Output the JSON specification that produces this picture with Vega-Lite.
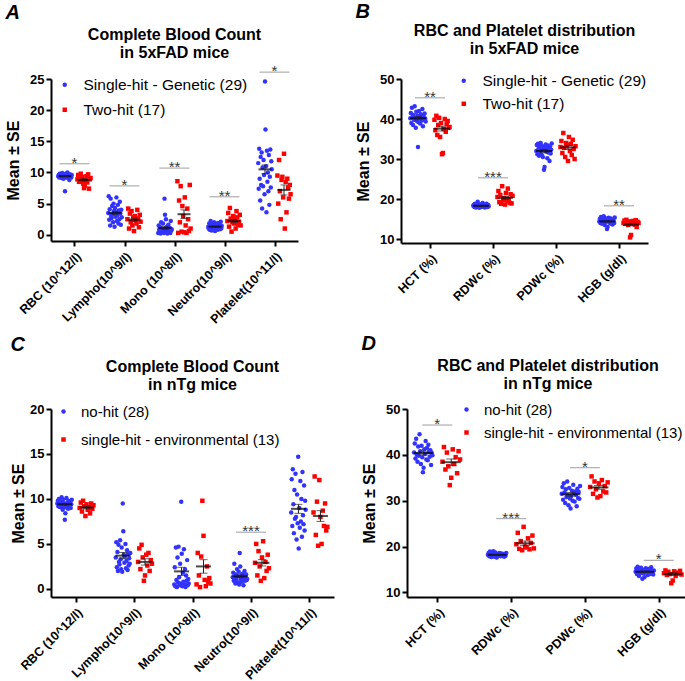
{
"$schema":"https://vega.github.io/schema/vega-lite/v6.json",
"padding":{"left":5,"top":2,"right":0,"bottom":0},
"config":{
 "view":{"stroke":null},
 "font":"Liberation Sans",
 "axis":{"domainColor":"black","domainWidth":2,"tickColor":"black","tickWidth":2,"tickSize":5,"labelFont":"Liberation Sans","labelFontWeight":"bold","labelColor":"black","labelFontSize":13,"labelPadding":2,"titleFont":"Liberation Sans","titleFontWeight":"bold","titleFontSize":16,"titleColor":"black","titlePadding":8,"grid":false,"labelOverlap":false},
 "axisX":{"labelAngle":-45,"labelFontSize":12.5,"labelPadding":4,"title":null},
 "legend":{"labelLimit":400},
 "title":{"font":"Liberation Sans","fontSize":16,"fontWeight":"bold","color":"black","anchor":"middle","lineHeight":18,"offset":3}
},
"datasets":{
 "pts":[
  {"p":"A","c":"RBC (10^12/l)","g":"b","v":[9.4,9.6,9.2,9.8,9.5,9.3,9.7,9.1,9.9,9.4,9.5,9.0,9.6,9.3,7.0,9.8,9.2,9.4,9.5,10.0,9.1,9.6,9.3,8.8,9.7,9.4,9.5,9.2,9.6]},
  {"p":"A","c":"RBC (10^12/l)","g":"r","v":[8.9,9.6,8.5,9.2,9.8,8.8,9.3,8.2,7.5,7.9,8.7,9.4,8.4,9.7,7.4,8.9,9.1]},
  {"p":"A","c":"Lympho(10^9/l)","g":"b","v":[3.5,6.2,2.4,4.1,1.5,5.8,3.0,2.7,4.6,3.3,2.0,5.0,3.8,1.3,4.3,2.9,3.6,6.0,2.2,3.1,4.8,1.8,3.9,2.5,5.3,3.4,1.6,4.0,2.8]},
  {"p":"A","c":"Lympho(10^9/l)","g":"r","v":[2.5,4.2,1.0,3.4,2.0,3.8,1.5,2.8,0.6,3.0,2.3,1.8,4.0,2.6,1.2,3.2,2.1]},
  {"p":"A","c":"Mono (10^8/l)","g":"b","v":[0.3,1.5,0.8,0.5,1.2,0.2,2.0,0.6,0.9,0.4,1.8,0.7,0.3,5.8,3.2,1.0,2.5,0.5,1.3,0.2,0.8,1.6,0.4,0.6,1.1,0.3,2.2,0.7,0.9]},
  {"p":"A","c":"Mono (10^8/l)","g":"r","v":[8.6,0.3,5.5,2.0,7.8,0.5,4.6,3.0,0.4,6.0,1.5,0.3,4.2,2.5,0.6,8.0,1.0]},
  {"p":"A","c":"Neutro(10^9/l)","g":"b","v":[1.3,1.0,1.8,0.8,1.5,2.2,1.1,0.7,1.4,1.6,0.9,1.2,2.0,1.3,0.6,1.7,1.0,1.5,1.2,0.8,1.9,1.4,1.1,1.6,0.9,1.3,2.1,1.0,1.4]},
  {"p":"A","c":"Neutro(10^9/l)","g":"r","v":[2.2,3.5,1.3,4.3,2.6,0.5,2.0,3.0,1.8,2.4,1.0,3.8,2.8,1.6,2.1,3.2,1.5]},
  {"p":"A","c":"Platelet(10^11/l)","g":"b","v":[11.5,7.4,13.8,9.0,5.5,12.5,8.0,13.2,4.2,10.8,7.8,12.0,9.6,6.5,24.6,16.9,11.0,3.6,13.5,8.5,10.0,7.0,12.8,4.8,9.3,13.7,7.6,11.8,10.5]},
  {"p":"A","c":"Platelet(10^11/l)","g":"r","v":[9.5,5.0,12.0,7.0,2.5,8.8,9.3,6.0,13.0,1.0,8.5,3.6,9.0,7.6,5.8,8.0,6.5]},
  {"p":"B","c":"HCT (%)","g":"b","v":[40.2,41.5,39.0,42.8,40.5,38.5,41.0,39.8,43.2,40.0,37.8,41.8,39.5,40.8,33.0,39.2,42.0,40.3,38.9,41.2,40.6,39.6,42.5,38.2,40.9,39.9,41.4,40.1,39.4]},
  {"p":"B","c":"HCT (%)","g":"r","v":[39.8,37.2,40.8,36.0,38.5,40.3,35.5,39.0,31.2,31.5,37.5,40.0,36.8,38.8,39.5,37.8,38.0]},
  {"p":"B","c":"RDWc (%)","g":"b","v":[18.3,18.5,18.0,18.8,18.2,17.9,18.6,18.4,19.3,18.1,18.3,17.8,18.7,18.2,18.5,18.0,18.4,19.0,18.3,18.1,18.6,17.9,18.4,18.2,18.8,18.3,18.0,18.5,18.2]},
  {"p":"B","c":"RDWc (%)","g":"r","v":[20.5,22.0,19.2,21.0,18.8,23.2,19.8,20.2,18.6,21.5,19.5,22.6,20.0,19.0,21.2,18.9,20.8]},
  {"p":"B","c":"PDWc (%)","g":"b","v":[32.0,33.5,31.2,33.8,32.5,30.8,33.0,31.5,34.0,32.2,31.0,33.2,30.5,32.8,27.3,28.0,32.4,33.6,31.8,32.9,30.2,33.4,31.6,32.6,29.5,33.1,31.4,32.3,33.9]},
  {"p":"B","c":"PDWc (%)","g":"r","v":[33.0,34.5,31.5,36.5,32.8,30.5,34.0,33.5,29.5,35.5,32.0,33.8,31.0,34.8,32.5,30.0,33.2]},
  {"p":"B","c":"HGB (g/dl)","g":"b","v":[14.4,15.0,14.0,15.5,14.6,13.8,14.9,14.2,15.7,14.5,13.5,15.2,14.3,14.8,12.5,13.0,14.7,15.3,14.1,14.6,13.9,15.1,14.4,14.2,13.6,14.8,14.5,14.0,15.4]},
  {"p":"B","c":"HGB (g/dl)","g":"r","v":[14.0,14.6,13.8,14.8,14.2,13.5,14.4,10.4,11.0,13.9,14.5,14.1,13.6,14.7,13.0,14.3,14.0]},
  {"p":"C","c":"RBC (10^12/l)","g":"b","v":[9.5,9.8,9.2,10.0,9.4,9.1,9.7,9.3,10.2,9.6,8.8,9.9,9.0,9.5,7.7,8.4,9.4,10.1,9.2,9.6,8.9,9.8,9.3,9.5,9.7,9.0,9.4,9.9]},
  {"p":"C","c":"RBC (10^12/l)","g":"r","v":[9.0,9.6,8.6,9.8,9.2,8.1,9.4,8.8,9.1,8.4,9.5,8.9,9.3]},
  {"p":"C","c":"Lympho(10^9/l)","g":"b","v":[3.5,5.2,2.4,4.1,2.0,4.9,3.0,2.7,5.4,3.3,2.2,4.6,1.9,9.5,6.4,3.8,2.9,3.6,5.0,2.3,3.1,4.3,2.1,3.9,2.6,3.4,2.8,4.0]},
  {"p":"C","c":"Lympho(10^9/l)","g":"r","v":[3.0,4.5,2.2,4.9,3.5,0.9,1.5,3.8,2.6,4.0,2.0,3.2,2.8]},
  {"p":"C","c":"Mono (10^8/l)","g":"b","v":[0.5,2.4,0.3,4.6,1.0,0.2,3.5,0.7,4.7,1.3,0.4,2.8,0.6,9.7,3.9,0.3,1.8,0.8,4.4,0.5,2.2,0.2,1.5,0.9,3.2,0.4,1.1,0.6]},
  {"p":"C","c":"Mono (10^8/l)","g":"r","v":[0.5,4.0,1.5,0.2,3.6,9.8,5.9,1.0,0.3,2.5,0.8,1.2,0.6]},
  {"p":"C","c":"Neutro(10^9/l)","g":"b","v":[1.3,1.8,0.9,2.8,1.2,0.6,1.6,1.0,2.2,1.4,0.7,1.9,0.5,4.0,2.5,1.1,1.5,0.8,1.7,1.2,0.4,1.4,2.0,0.9,1.3,1.6,1.0,1.1]},
  {"p":"C","c":"Neutro(10^9/l)","g":"r","v":[2.9,5.0,1.5,4.2,2.5,0.9,3.5,5.3,1.2,3.0,2.0,3.8,2.3]},
  {"p":"C","c":"Platelet(10^11/l)","g":"b","v":[8.5,12.2,7.0,13.3,9.4,6.2,11.0,7.8,12.8,8.0,5.5,10.5,7.3,14.7,4.5,9.0,6.8,12.0,7.5,10.0,5.8,13.0,8.2,7.2,11.5,6.5,9.8,8.8]},
  {"p":"C","c":"Platelet(10^11/l)","g":"r","v":[8.5,12.5,6.0,9.7,4.8,12.1,8.0,5.0,8.7,7.0,9.5,6.5,6.9]},
  {"p":"D","c":"HCT (%)","g":"b","v":[40.5,42.5,39.2,43.5,40.0,38.5,41.8,39.8,44.5,40.8,38.0,42.0,39.5,36.2,37.2,41.2,40.2,43.0,39.0,41.5,38.8,42.2,40.6,39.6,41.0,37.8,40.4,39.9]},
  {"p":"D","c":"HCT (%)","g":"r","v":[38.5,41.7,36.8,40.5,37.5,33.4,35.0,41.2,38.0,39.5,36.0,40.8,39.0]},
  {"p":"D","c":"RDWc (%)","g":"b","v":[18.2,18.6,17.9,18.9,18.3,17.7,18.5,18.0,19.0,18.2,17.8,18.7,18.1,17.6,18.4,18.3,18.0,18.6,18.2,17.9,18.5,18.1,18.3,18.4,17.8,18.2,18.0,18.6]},
  {"p":"D","c":"RDWc (%)","g":"r","v":[20.5,23.0,19.5,21.2,19.2,24.3,20.0,19.8,21.8,19.4,20.8,22.4,19.6]},
  {"p":"D","c":"PDWc (%)","g":"b","v":[31.5,33.0,30.2,33.8,31.8,29.5,32.5,30.8,34.2,31.2,29.0,32.8,30.5,28.3,31.0,32.2,30.0,33.5,31.6,29.8,32.0,31.3,28.8,32.6,30.6,31.9,30.4,33.2]},
  {"p":"D","c":"PDWc (%)","g":"r","v":[33.0,35.3,31.5,34.2,32.5,30.7,33.8,31.0,34.5,32.0,33.2,31.8,34.0]},
  {"p":"D","c":"HGB (g/dl)","g":"b","v":[14.5,15.2,14.0,15.6,14.7,13.6,15.0,14.2,15.4,14.4,13.0,14.9,14.1,13.3,14.6,15.3,14.3,14.8,13.8,15.1,14.5,14.0,14.7,15.5,14.2,14.6,13.9,14.8]},
  {"p":"D","c":"HGB (g/dl)","g":"r","v":[14.2,14.8,13.8,14.5,14.0,12.0,12.6,14.6,13.6,14.3,14.1,14.7,13.9]}
 ],
 "sum":[
  {"p":"A","c":"RBC (10^12/l)","g":"b","m":9.4,"lo":9.3,"hi":9.5},
  {"p":"A","c":"RBC (10^12/l)","g":"r","m":8.8,"lo":8.6,"hi":9.0},
  {"p":"A","c":"Lympho(10^9/l)","g":"b","m":3.5,"lo":3.25,"hi":3.75},
  {"p":"A","c":"Lympho(10^9/l)","g":"r","m":2.4,"lo":2.15,"hi":2.65},
  {"p":"A","c":"Mono (10^8/l)","g":"b","m":1.1,"lo":0.85,"hi":1.35},
  {"p":"A","c":"Mono (10^8/l)","g":"r","m":3.3,"lo":2.6,"hi":4.0},
  {"p":"A","c":"Neutro(10^9/l)","g":"b","m":1.3,"lo":1.2,"hi":1.4},
  {"p":"A","c":"Neutro(10^9/l)","g":"r","m":2.2,"lo":1.95,"hi":2.45},
  {"p":"A","c":"Platelet(10^11/l)","g":"b","m":10.5,"lo":9.8,"hi":11.2},
  {"p":"A","c":"Platelet(10^11/l)","g":"r","m":7.2,"lo":6.4,"hi":8.0},
  {"p":"B","c":"HCT (%)","g":"b","m":40.2,"lo":39.8,"hi":40.6},
  {"p":"B","c":"HCT (%)","g":"r","m":37.6,"lo":37.0,"hi":38.2},
  {"p":"B","c":"RDWc (%)","g":"b","m":18.3,"lo":18.2,"hi":18.4},
  {"p":"B","c":"RDWc (%)","g":"r","m":20.3,"lo":19.95,"hi":20.65},
  {"p":"B","c":"PDWc (%)","g":"b","m":32.0,"lo":31.6,"hi":32.4},
  {"p":"B","c":"PDWc (%)","g":"r","m":32.9,"lo":32.4,"hi":33.4},
  {"p":"B","c":"HGB (g/dl)","g":"b","m":14.4,"lo":14.25,"hi":14.55},
  {"p":"B","c":"HGB (g/dl)","g":"r","m":13.6,"lo":13.3,"hi":13.9},
  {"p":"C","c":"RBC (10^12/l)","g":"b","m":9.4,"lo":9.3,"hi":9.5},
  {"p":"C","c":"RBC (10^12/l)","g":"r","m":9.05,"lo":8.9,"hi":9.2},
  {"p":"C","c":"Lympho(10^9/l)","g":"b","m":3.7,"lo":3.35,"hi":4.05},
  {"p":"C","c":"Lympho(10^9/l)","g":"r","m":3.0,"lo":2.65,"hi":3.35},
  {"p":"C","c":"Mono (10^8/l)","g":"b","m":1.95,"lo":1.5,"hi":2.4},
  {"p":"C","c":"Mono (10^8/l)","g":"r","m":2.5,"lo":1.75,"hi":3.25},
  {"p":"C","c":"Neutro(10^9/l)","g":"b","m":1.4,"lo":1.25,"hi":1.55},
  {"p":"C","c":"Neutro(10^9/l)","g":"r","m":2.9,"lo":2.55,"hi":3.25},
  {"p":"C","c":"Platelet(10^11/l)","g":"b","m":8.9,"lo":8.4,"hi":9.4},
  {"p":"C","c":"Platelet(10^11/l)","g":"r","m":8.1,"lo":7.5,"hi":8.7},
  {"p":"D","c":"HCT (%)","g":"b","m":40.4,"lo":40.0,"hi":40.8},
  {"p":"D","c":"HCT (%)","g":"r","m":38.4,"lo":37.7,"hi":39.1},
  {"p":"D","c":"RDWc (%)","g":"b","m":18.2,"lo":18.1,"hi":18.3},
  {"p":"D","c":"RDWc (%)","g":"r","m":20.7,"lo":20.2,"hi":21.2},
  {"p":"D","c":"PDWc (%)","g":"b","m":31.4,"lo":31.0,"hi":31.8},
  {"p":"D","c":"PDWc (%)","g":"r","m":32.9,"lo":32.5,"hi":33.3},
  {"p":"D","c":"HGB (g/dl)","g":"b","m":14.5,"lo":14.35,"hi":14.65},
  {"p":"D","c":"HGB (g/dl)","g":"r","m":14.0,"lo":13.7,"hi":14.3}
 ],
 "sig":[
  {"p":"A","c":"RBC (10^12/l)","y":11.4,"t":"*"},
  {"p":"A","c":"Lympho(10^9/l)","y":7.85,"t":"*"},
  {"p":"A","c":"Mono (10^8/l)","y":10.7,"t":"**"},
  {"p":"A","c":"Neutro(10^9/l)","y":6.1,"t":"**"},
  {"p":"A","c":"Platelet(10^11/l)","y":26.1,"t":"*"},
  {"p":"B","c":"HCT (%)","y":45.3,"t":"**"},
  {"p":"B","c":"RDWc (%)","y":25.3,"t":"***"},
  {"p":"B","c":"HGB (g/dl)","y":18.3,"t":"**"},
  {"p":"C","c":"Neutro(10^9/l)","y":6.3,"t":"***"},
  {"p":"D","c":"HCT (%)","y":46.5,"t":"*"},
  {"p":"D","c":"RDWc (%)","y":26.1,"t":"***"},
  {"p":"D","c":"PDWc (%)","y":37.2,"t":"*"},
  {"p":"D","c":"HGB (g/dl)","y":17.0,"t":"*"}
 ]
},
"spacing":8,
"resolve":{"scale":{"color":"independent","shape":"independent"},"legend":{"color":"independent","shape":"independent"}},
"vconcat":[
 {"spacing":57,
  "resolve":{"scale":{"color":"independent","shape":"independent"},"legend":{"color":"independent","shape":"independent"}},
  "hconcat":[
  {"title":{"text":"A","anchor":"start","fontSize":20,"fontStyle":"italic","fontWeight":"bold","offset":4},
   "resolve":{"scale":{"color":"independent","shape":"independent"},"legend":{"color":"independent","shape":"independent"}},
   "vconcat":[{
    "title":{"text":["Complete Blood Count","in 5xFAD mice"],"offset":3},
    "width":247,"height":162,
    "resolve":{"scale":{"xOffset":"independent"}},
    "layer":[
     {"data":{"name":"pts"},"transform":[{"filter":"datum.p=='A' && datum.g=='b'"},{"flatten":["v"]},{"window":[{"op":"row_number","as":"i"}],"groupby":["c"]}],
      "mark":{"type":"point","filled":true,"size":20,"opacity":1},
      "encoding":{
       "x":{"field":"c","type":"nominal","scale":{"type":"point","domain":["RBC (10^12/l)","Lympho(10^9/l)","Mono (10^8/l)","Neutro(10^9/l)","Platelet(10^11/l)"],"padding":0.47},"axis":{"title":null}},
       "y":{"field":"v","type":"quantitative","scale":{"domain":[-1,25],"nice":false,"zero":false},"axis":{"title":"Mean ± SE","values":[0,5,10,15,20,25]}},
       "xOffset":{"field":"i","type":"ordinal","scale":{"range":[-16.5,-2.5]}},
       "color":{"field":"g","type":"nominal","scale":{"domain":["b","r"],"range":["#3333ff","#ff0000"]},"legend":{"orient":"none","legendX":6,"legendY":-2,"title":null,"labelExpr":"datum.value=='b' ? 'Single-hit - Genetic (29)' : 'Two-hit (17)'","labelFont":"Liberation Sans","labelFontSize":15.5,"labelColor":"black","symbolSize":20,"labelOffset":11,"rowPadding":8}},
       "shape":{"field":"g","type":"nominal","scale":{"domain":["b","r"],"range":["circle","square"]},"legend":{"orient":"none","legendX":6,"legendY":-2,"title":null,"labelExpr":"datum.value=='b' ? 'Single-hit - Genetic (29)' : 'Two-hit (17)'","labelFont":"Liberation Sans","labelFontSize":15.5,"labelColor":"black","symbolSize":20,"labelOffset":11,"rowPadding":8}}
      }},
     {"data":{"name":"pts"},"transform":[{"filter":"datum.p=='A' && datum.g=='r'"},{"flatten":["v"]},{"window":[{"op":"row_number","as":"i"}],"groupby":["c"]}],
      "mark":{"type":"point","filled":true,"size":20,"opacity":1},
      "encoding":{
       "x":{"field":"c","type":"nominal"},
       "y":{"field":"v","type":"quantitative","axis":{"title":"Mean ± SE","values":[0,5,10,15,20,25]}},
       "xOffset":{"field":"i","type":"ordinal","scale":{"range":[2.5,16.5]}},
       "color":{"field":"g","type":"nominal"},
       "shape":{"field":"g","type":"nominal"}
      }},
     {"data":{"name":"sum"},"transform":[{"filter":"datum.p=='A'"}],
      "mark":{"type":"tick","orient":"horizontal","color":"black","thickness":2,"size":13},
      "encoding":{"x":{"field":"c","type":"nominal"},"y":{"field":"m","type":"quantitative","axis":{"title":"Mean ± SE","values":[0,5,10,15,20,25]}},"xOffset":{"field":"g","type":"nominal","scale":{"domain":["b","r"],"range":[-19,19]}}}},
     {"data":{"name":"sum"},"transform":[{"filter":"datum.p=='A'"}],
      "mark":{"type":"rule","color":"#222222","strokeWidth":1},
      "encoding":{"x":{"field":"c","type":"nominal"},"y":{"field":"lo","type":"quantitative","axis":{"title":"Mean ± SE","values":[0,5,10,15,20,25]}},"y2":{"field":"hi"},"xOffset":{"field":"g","type":"nominal","scale":{"domain":["b","r"],"range":[-19,19]}}}},
     {"data":{"name":"sum"},"transform":[{"filter":"datum.p=='A'"}],
      "mark":{"type":"tick","orient":"horizontal","color":"#222222","thickness":1,"size":7},
      "encoding":{"x":{"field":"c","type":"nominal"},"y":{"field":"lo","type":"quantitative","axis":{"title":"Mean ± SE","values":[0,5,10,15,20,25]}},"xOffset":{"field":"g","type":"nominal","scale":{"domain":["b","r"],"range":[-19,19]}}}},
     {"data":{"name":"sum"},"transform":[{"filter":"datum.p=='A'"}],
      "mark":{"type":"tick","orient":"horizontal","color":"#222222","thickness":1,"size":7},
      "encoding":{"x":{"field":"c","type":"nominal"},"y":{"field":"hi","type":"quantitative","axis":{"title":"Mean ± SE","values":[0,5,10,15,20,25]}},"xOffset":{"field":"g","type":"nominal","scale":{"domain":["b","r"],"range":[-19,19]}}}},
     {"data":{"name":"sig"},"transform":[{"filter":"datum.p=='A'"}],
      "mark":{"type":"tick","orient":"horizontal","color":"#8c8c8c","thickness":1.2,"size":30},
      "encoding":{"x":{"field":"c","type":"nominal"},"y":{"field":"y","type":"quantitative","axis":{"title":"Mean ± SE","values":[0,5,10,15,20,25]}}}},
     {"data":{"name":"sig"},"transform":[{"filter":"datum.p=='A'"}],
      "mark":{"type":"text","fontSize":15,"color":"#333333","dy":4,"baseline":"alphabetic","font":"Liberation Sans"},
      "encoding":{"x":{"field":"c","type":"nominal"},"y":{"field":"y","type":"quantitative","axis":{"title":"Mean ± SE","values":[0,5,10,15,20,25]}},"text":{"field":"t"}}}
    ]
   }]
  },
  {"title":{"text":"B","anchor":"start","fontSize":20,"fontStyle":"italic","fontWeight":"bold","offset":1},
   "resolve":{"scale":{"color":"independent","shape":"independent"},"legend":{"color":"independent","shape":"independent"}},
   "vconcat":[{
    "title":{"text":["RBC and Platelet distribution","in 5xFAD mice"],"offset":16},
    "width":247,"height":164,
    "resolve":{"scale":{"xOffset":"independent"}},
    "layer":[
     {"data":{"name":"pts"},"transform":[{"filter":"datum.p=='B' && datum.g=='b'"},{"flatten":["v"]},{"window":[{"op":"row_number","as":"i"}],"groupby":["c"]}],
      "mark":{"type":"point","filled":true,"size":20,"opacity":1},
      "encoding":{
       "x":{"field":"c","type":"nominal","scale":{"type":"point","domain":["HCT (%)","RDWc (%)","PDWc (%)","HGB (g/dl)"],"padding":0.46},"axis":{"title":null}},
       "y":{"field":"v","type":"quantitative","scale":{"domain":[9,50],"nice":false,"zero":false},"axis":{"title":"Mean ± SE","values":[10,20,30,40,50]}},
       "xOffset":{"field":"i","type":"ordinal","scale":{"range":[-20,-4]}},
       "color":{"field":"g","type":"nominal","scale":{"domain":["b","r"],"range":["#3333ff","#ff0000"]},"legend":{"orient":"none","legendX":55,"legendY":-6,"title":null,"labelExpr":"datum.value=='b' ? 'Single-hit - Genetic (29)' : 'Two-hit (17)'","labelFont":"Liberation Sans","labelFontSize":15.5,"labelColor":"black","symbolSize":20,"labelOffset":11,"rowPadding":6}},
       "shape":{"field":"g","type":"nominal","scale":{"domain":["b","r"],"range":["circle","square"]},"legend":{"orient":"none","legendX":55,"legendY":-6,"title":null,"labelExpr":"datum.value=='b' ? 'Single-hit - Genetic (29)' : 'Two-hit (17)'","labelFont":"Liberation Sans","labelFontSize":15.5,"labelColor":"black","symbolSize":20,"labelOffset":11,"rowPadding":6}}
      }},
     {"data":{"name":"pts"},"transform":[{"filter":"datum.p=='B' && datum.g=='r'"},{"flatten":["v"]},{"window":[{"op":"row_number","as":"i"}],"groupby":["c"]}],
      "mark":{"type":"point","filled":true,"size":20,"opacity":1},
      "encoding":{
       "x":{"field":"c","type":"nominal"},
       "y":{"field":"v","type":"quantitative","axis":{"title":"Mean ± SE","values":[10,20,30,40,50]}},
       "xOffset":{"field":"i","type":"ordinal","scale":{"range":[4,20]}},
       "color":{"field":"g","type":"nominal"},
       "shape":{"field":"g","type":"nominal"}
      }},
     {"data":{"name":"sum"},"transform":[{"filter":"datum.p=='B'"}],
      "mark":{"type":"tick","orient":"horizontal","color":"black","thickness":2,"size":16},
      "encoding":{"x":{"field":"c","type":"nominal"},"y":{"field":"m","type":"quantitative","axis":{"title":"Mean ± SE","values":[10,20,30,40,50]}},"xOffset":{"field":"g","type":"nominal","scale":{"domain":["b","r"],"range":[-24,24]}}}},
     {"data":{"name":"sum"},"transform":[{"filter":"datum.p=='B'"}],
      "mark":{"type":"rule","color":"#222222","strokeWidth":1},
      "encoding":{"x":{"field":"c","type":"nominal"},"y":{"field":"lo","type":"quantitative","axis":{"title":"Mean ± SE","values":[10,20,30,40,50]}},"y2":{"field":"hi"},"xOffset":{"field":"g","type":"nominal","scale":{"domain":["b","r"],"range":[-24,24]}}}},
     {"data":{"name":"sum"},"transform":[{"filter":"datum.p=='B'"}],
      "mark":{"type":"tick","orient":"horizontal","color":"#222222","thickness":1,"size":8},
      "encoding":{"x":{"field":"c","type":"nominal"},"y":{"field":"lo","type":"quantitative","axis":{"title":"Mean ± SE","values":[10,20,30,40,50]}},"xOffset":{"field":"g","type":"nominal","scale":{"domain":["b","r"],"range":[-24,24]}}}},
     {"data":{"name":"sum"},"transform":[{"filter":"datum.p=='B'"}],
      "mark":{"type":"tick","orient":"horizontal","color":"#222222","thickness":1,"size":8},
      "encoding":{"x":{"field":"c","type":"nominal"},"y":{"field":"hi","type":"quantitative","axis":{"title":"Mean ± SE","values":[10,20,30,40,50]}},"xOffset":{"field":"g","type":"nominal","scale":{"domain":["b","r"],"range":[-24,24]}}}},
     {"data":{"name":"sig"},"transform":[{"filter":"datum.p=='B'"}],
      "mark":{"type":"tick","orient":"horizontal","color":"#8c8c8c","thickness":1.2,"size":30},
      "encoding":{"x":{"field":"c","type":"nominal"},"y":{"field":"y","type":"quantitative","axis":{"title":"Mean ± SE","values":[10,20,30,40,50]}}}},
     {"data":{"name":"sig"},"transform":[{"filter":"datum.p=='B'"}],
      "mark":{"type":"text","fontSize":15,"color":"#333333","dy":4,"baseline":"alphabetic","font":"Liberation Sans"},
      "encoding":{"x":{"field":"c","type":"nominal"},"y":{"field":"y","type":"quantitative","axis":{"title":"Mean ± SE","values":[10,20,30,40,50]}},"text":{"field":"t"}}}
    ]
   }]
  }
 ]},
 {"spacing":27,
  "resolve":{"scale":{"color":"independent","shape":"independent"},"legend":{"color":"independent","shape":"independent"}},
  "hconcat":[
  {"title":{"text":"C","anchor":"start","fontSize":20,"fontStyle":"italic","fontWeight":"bold","offset":4},
   "resolve":{"scale":{"color":"independent","shape":"independent"},"legend":{"color":"independent","shape":"independent"}},
   "vconcat":[{
    "title":{"text":["Complete Blood Count","in nTg mice"],"offset":10},
    "width":283,"height":188,
    "resolve":{"scale":{"xOffset":"independent"}},
    "layer":[
     {"data":{"name":"pts"},"transform":[{"filter":"datum.p=='C' && datum.g=='b'"},{"flatten":["v"]},{"window":[{"op":"row_number","as":"i"}],"groupby":["c"]}],
      "mark":{"type":"point","filled":true,"size":20,"opacity":1},
      "encoding":{
       "x":{"field":"c","type":"nominal","scale":{"type":"point","domain":["RBC (10^12/l)","Lympho(10^9/l)","Mono (10^8/l)","Neutro(10^9/l)","Platelet(10^11/l)"],"padding":0.42},"axis":{"title":null}},
       "y":{"field":"v","type":"quantitative","scale":{"domain":[-0.9,20],"nice":false,"zero":false},"axis":{"title":"Mean ± SE","titlePadding":3,"values":[0,5,10,15,20]}},
       "xOffset":{"field":"i","type":"ordinal","scale":{"range":[-18.5,-3.5]}},
       "color":{"field":"g","type":"nominal","scale":{"domain":["b","r"],"range":["#3333ff","#ff0000"]},"legend":{"orient":"none","legendX":5,"legendY":-5,"title":null,"labelExpr":"datum.value=='b' ? 'no-hit (28)' : 'single-hit - environmental (13)'","labelFont":"Liberation Sans","labelFontSize":15,"labelColor":"black","symbolSize":20,"labelOffset":10,"rowPadding":12}},
       "shape":{"field":"g","type":"nominal","scale":{"domain":["b","r"],"range":["circle","square"]},"legend":{"orient":"none","legendX":5,"legendY":-5,"title":null,"labelExpr":"datum.value=='b' ? 'no-hit (28)' : 'single-hit - environmental (13)'","labelFont":"Liberation Sans","labelFontSize":15,"labelColor":"black","symbolSize":20,"labelOffset":10,"rowPadding":12}}
      }},
     {"data":{"name":"pts"},"transform":[{"filter":"datum.p=='C' && datum.g=='r'"},{"flatten":["v"]},{"window":[{"op":"row_number","as":"i"}],"groupby":["c"]}],
      "mark":{"type":"point","filled":true,"size":20,"opacity":1},
      "encoding":{
       "x":{"field":"c","type":"nominal"},
       "y":{"field":"v","type":"quantitative","axis":{"title":"Mean ± SE","titlePadding":3,"values":[0,5,10,15,20]}},
       "xOffset":{"field":"i","type":"ordinal","scale":{"range":[3.5,18.5]}},
       "color":{"field":"g","type":"nominal"},
       "shape":{"field":"g","type":"nominal"}
      }},
     {"data":{"name":"sum"},"transform":[{"filter":"datum.p=='C'"}],
      "mark":{"type":"tick","orient":"horizontal","color":"black","thickness":2,"size":15},
      "encoding":{"x":{"field":"c","type":"nominal"},"y":{"field":"m","type":"quantitative","axis":{"title":"Mean ± SE","titlePadding":3,"values":[0,5,10,15,20]}},"xOffset":{"field":"g","type":"nominal","scale":{"domain":["b","r"],"range":[-22,22]}}}},
     {"data":{"name":"sum"},"transform":[{"filter":"datum.p=='C'"}],
      "mark":{"type":"rule","color":"#222222","strokeWidth":1},
      "encoding":{"x":{"field":"c","type":"nominal"},"y":{"field":"lo","type":"quantitative","axis":{"title":"Mean ± SE","titlePadding":3,"values":[0,5,10,15,20]}},"y2":{"field":"hi"},"xOffset":{"field":"g","type":"nominal","scale":{"domain":["b","r"],"range":[-22,22]}}}},
     {"data":{"name":"sum"},"transform":[{"filter":"datum.p=='C'"}],
      "mark":{"type":"tick","orient":"horizontal","color":"#222222","thickness":1,"size":8},
      "encoding":{"x":{"field":"c","type":"nominal"},"y":{"field":"lo","type":"quantitative","axis":{"title":"Mean ± SE","titlePadding":3,"values":[0,5,10,15,20]}},"xOffset":{"field":"g","type":"nominal","scale":{"domain":["b","r"],"range":[-22,22]}}}},
     {"data":{"name":"sum"},"transform":[{"filter":"datum.p=='C'"}],
      "mark":{"type":"tick","orient":"horizontal","color":"#222222","thickness":1,"size":8},
      "encoding":{"x":{"field":"c","type":"nominal"},"y":{"field":"hi","type":"quantitative","axis":{"title":"Mean ± SE","titlePadding":3,"values":[0,5,10,15,20]}},"xOffset":{"field":"g","type":"nominal","scale":{"domain":["b","r"],"range":[-22,22]}}}},
     {"data":{"name":"sig"},"transform":[{"filter":"datum.p=='C'"}],
      "mark":{"type":"tick","orient":"horizontal","color":"#8c8c8c","thickness":1.2,"size":30},
      "encoding":{"x":{"field":"c","type":"nominal"},"y":{"field":"y","type":"quantitative","axis":{"title":"Mean ± SE","titlePadding":3,"values":[0,5,10,15,20]}}}},
     {"data":{"name":"sig"},"transform":[{"filter":"datum.p=='C'"}],
      "mark":{"type":"text","fontSize":15,"color":"#333333","dy":4,"baseline":"alphabetic","font":"Liberation Sans"},
      "encoding":{"x":{"field":"c","type":"nominal"},"y":{"field":"y","type":"quantitative","axis":{"title":"Mean ± SE","titlePadding":3,"values":[0,5,10,15,20]}},"text":{"field":"t"}}}
    ]
   }]
  },
  {"title":{"text":"D","anchor":"start","fontSize":20,"fontStyle":"italic","fontWeight":"bold","offset":4},
   "resolve":{"scale":{"color":"independent","shape":"independent"},"legend":{"color":"independent","shape":"independent"}},
   "vconcat":[{
    "title":{"text":["RBC and Platelet distribution","in nTg mice"],"offset":10},
    "width":282,"height":188,
    "resolve":{"scale":{"xOffset":"independent"}},
    "layer":[
     {"data":{"name":"pts"},"transform":[{"filter":"datum.p=='D' && datum.g=='b'"},{"flatten":["v"]},{"window":[{"op":"row_number","as":"i"}],"groupby":["c"]}],
      "mark":{"type":"point","filled":true,"size":20,"opacity":1},
      "encoding":{
       "x":{"field":"c","type":"nominal","scale":{"type":"point","domain":["HCT (%)","RDWc (%)","PDWc (%)","HGB (g/dl)"],"padding":0.41},"axis":{"title":null}},
       "y":{"field":"v","type":"quantitative","scale":{"domain":[9,50],"nice":false,"zero":false},"axis":{"title":"Mean ± SE","values":[10,20,30,40,50]}},
       "xOffset":{"field":"i","type":"ordinal","scale":{"range":[-23.5,-4.5]}},
       "color":{"field":"g","type":"nominal","scale":{"domain":["b","r"],"range":["#3333ff","#ff0000"]},"legend":{"orient":"none","legendX":52,"legendY":-7,"title":null,"labelExpr":"datum.value=='b' ? 'no-hit (28)' : 'single-hit - environmental (13)'","labelFont":"Liberation Sans","labelFontSize":15,"labelColor":"black","symbolSize":20,"labelOffset":10,"rowPadding":7}},
       "shape":{"field":"g","type":"nominal","scale":{"domain":["b","r"],"range":["circle","square"]},"legend":{"orient":"none","legendX":52,"legendY":-7,"title":null,"labelExpr":"datum.value=='b' ? 'no-hit (28)' : 'single-hit - environmental (13)'","labelFont":"Liberation Sans","labelFontSize":15,"labelColor":"black","symbolSize":20,"labelOffset":10,"rowPadding":7}}
      }},
     {"data":{"name":"pts"},"transform":[{"filter":"datum.p=='D' && datum.g=='r'"},{"flatten":["v"]},{"window":[{"op":"row_number","as":"i"}],"groupby":["c"]}],
      "mark":{"type":"point","filled":true,"size":20,"opacity":1},
      "encoding":{
       "x":{"field":"c","type":"nominal"},
       "y":{"field":"v","type":"quantitative","axis":{"title":"Mean ± SE","values":[10,20,30,40,50]}},
       "xOffset":{"field":"i","type":"ordinal","scale":{"range":[4.5,23.5]}},
       "color":{"field":"g","type":"nominal"},
       "shape":{"field":"g","type":"nominal"}
      }},
     {"data":{"name":"sum"},"transform":[{"filter":"datum.p=='D'"}],
      "mark":{"type":"tick","orient":"horizontal","color":"black","thickness":2,"size":19},
      "encoding":{"x":{"field":"c","type":"nominal"},"y":{"field":"m","type":"quantitative","axis":{"title":"Mean ± SE","values":[10,20,30,40,50]}},"xOffset":{"field":"g","type":"nominal","scale":{"domain":["b","r"],"range":[-28,28]}}}},
     {"data":{"name":"sum"},"transform":[{"filter":"datum.p=='D'"}],
      "mark":{"type":"rule","color":"#222222","strokeWidth":1},
      "encoding":{"x":{"field":"c","type":"nominal"},"y":{"field":"lo","type":"quantitative","axis":{"title":"Mean ± SE","values":[10,20,30,40,50]}},"y2":{"field":"hi"},"xOffset":{"field":"g","type":"nominal","scale":{"domain":["b","r"],"range":[-28,28]}}}},
     {"data":{"name":"sum"},"transform":[{"filter":"datum.p=='D'"}],
      "mark":{"type":"tick","orient":"horizontal","color":"#222222","thickness":1,"size":10},
      "encoding":{"x":{"field":"c","type":"nominal"},"y":{"field":"lo","type":"quantitative","axis":{"title":"Mean ± SE","values":[10,20,30,40,50]}},"xOffset":{"field":"g","type":"nominal","scale":{"domain":["b","r"],"range":[-28,28]}}}},
     {"data":{"name":"sum"},"transform":[{"filter":"datum.p=='D'"}],
      "mark":{"type":"tick","orient":"horizontal","color":"#222222","thickness":1,"size":10},
      "encoding":{"x":{"field":"c","type":"nominal"},"y":{"field":"hi","type":"quantitative","axis":{"title":"Mean ± SE","values":[10,20,30,40,50]}},"xOffset":{"field":"g","type":"nominal","scale":{"domain":["b","r"],"range":[-28,28]}}}},
     {"data":{"name":"sig"},"transform":[{"filter":"datum.p=='D'"}],
      "mark":{"type":"tick","orient":"horizontal","color":"#8c8c8c","thickness":1.2,"size":30},
      "encoding":{"x":{"field":"c","type":"nominal"},"y":{"field":"y","type":"quantitative","axis":{"title":"Mean ± SE","values":[10,20,30,40,50]}}}},
     {"data":{"name":"sig"},"transform":[{"filter":"datum.p=='D'"}],
      "mark":{"type":"text","fontSize":15,"color":"#333333","dy":4,"baseline":"alphabetic","font":"Liberation Sans"},
      "encoding":{"x":{"field":"c","type":"nominal"},"y":{"field":"y","type":"quantitative","axis":{"title":"Mean ± SE","values":[10,20,30,40,50]}},"text":{"field":"t"}}}
    ]
   }]
  }
 ]}
]
}
